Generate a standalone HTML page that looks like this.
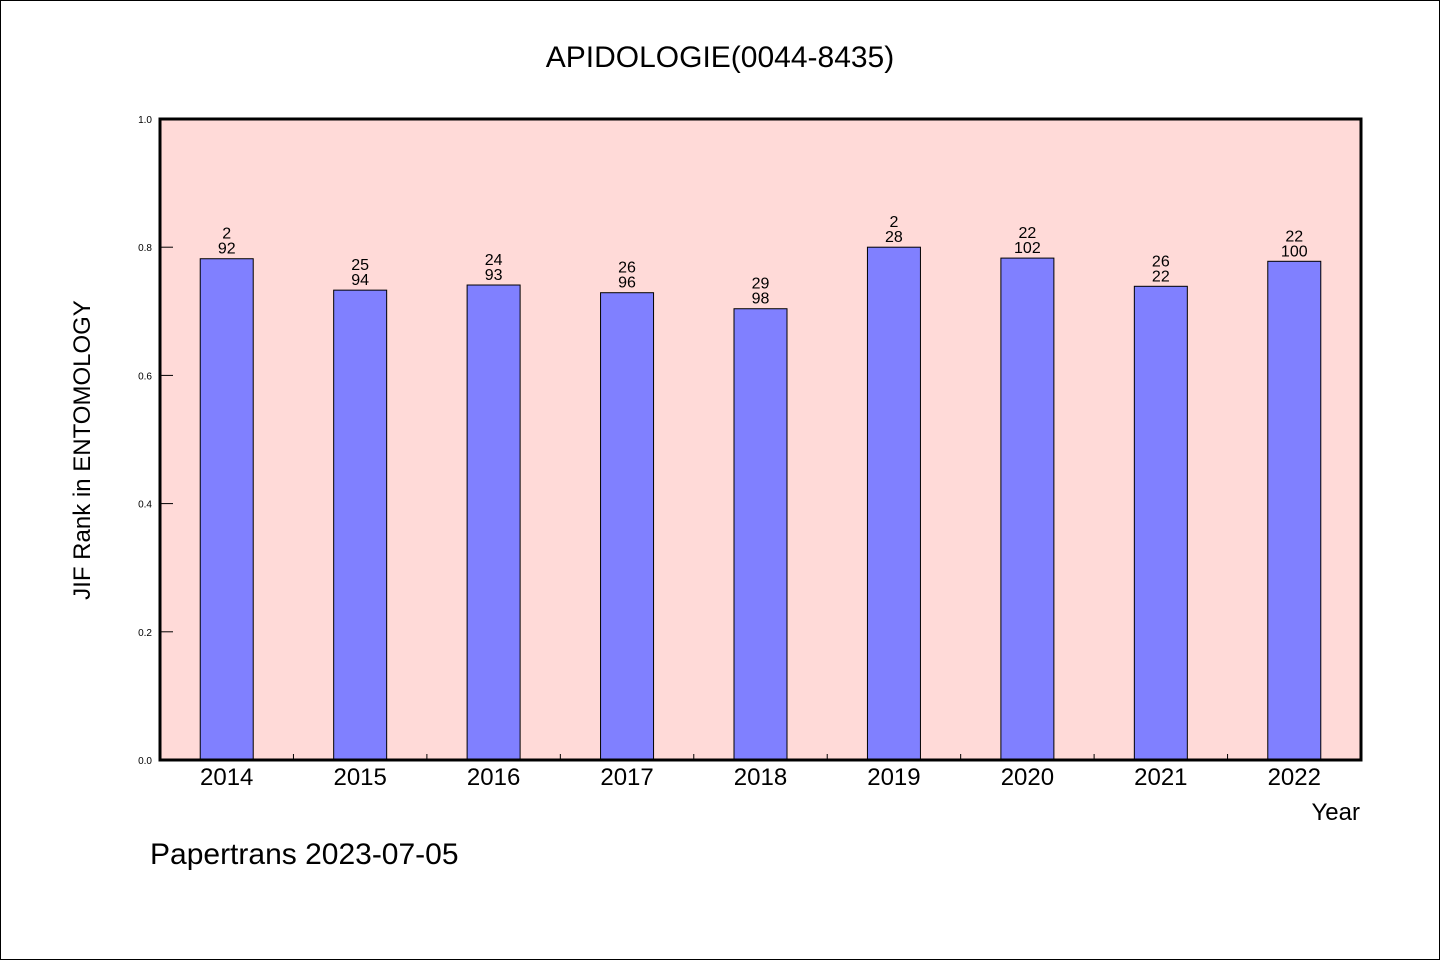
<!DOCTYPE html>
<html><head><meta charset="utf-8"><style>body{margin:0;background:#fff}svg{display:block}text{font-family:"WenQuanYi Zen Hei","Liberation Sans",sans-serif;fill:#000}</style></head>
<body>
<svg id="c" width="1440" height="960">
<rect x="0.5" y="0.5" width="1439" height="959" fill="#fff" stroke="#000"/>
<text x="720" y="67" font-size="30" text-anchor="middle">APIDOLOGIE(0044-8435)</text>
<rect x="160" y="119" width="1201" height="641" fill="#ffdad8"/>
<g id="bars"></g>
<rect x="160" y="119" width="1201" height="641" fill="none" stroke="#000" stroke-width="3"/>
<text transform="translate(90,450) rotate(-90)" font-size="24" text-anchor="middle">JIF Rank in ENTOMOLOGY</text>
<text x="1360" y="820" font-size="24" text-anchor="end">Year</text>
<text x="150" y="864" font-size="30">Papertrans 2023-07-05</text>
</svg>
<script>
const years=["2014","2015","2016","2017","2018","2019","2020","2021","2022"];
const values=[0.782,0.733,0.741,0.729,0.704,0.800,0.783,0.739,0.778];
const rankTop=["2","25","24","26","29","2","22","26","22"];
const rankBottom=["92","94","93","96","98","28","102","22","100"];
const yTicks=[0,0.2,0.4,0.6,0.8,1.0];
const ns="http://www.w3.org/2000/svg";
const x0=160,x1=1361,y0=760,y1=119;
const step=(x1-x0)/years.length;
const xs=i=>x0+step*(i+0.5);
const ys=v=>y0-(y0-y1)*v;
const g=document.getElementById('bars');
function mk(t,a,txt){const e=document.createElementNS(ns,t);for(const k in a)e.setAttribute(k,a[k]);if(txt!==undefined)e.textContent=txt;g.appendChild(e);return e;}
yTicks.forEach(v=>{
 const l=mk('line',{x1:x0,x2:x0+13,y1:ys(v),y2:ys(v),stroke:'#000'});
 
 
 const t=mk('text',{x:x0-8,y:ys(v)+4,'font-size':10,'text-anchor':'end'},v.toFixed(1));
 
 
});
years.forEach((y,i)=>{
 if(i>0){const tk=mk('line',{x1:x0+step*i,x2:x0+step*i,y1:y0,y2:y0-6,stroke:'#000'});
 
 }
 const b=mk('rect',{x:xs(i)-26.5,y:ys(values[i]),width:53,height:y0-ys(values[i]),fill:'#8080ff',stroke:'#000','stroke-width':1});
 
 
 const t1=mk('text',{x:xs(i),y:ys(values[i])-20,'font-size':16,'text-anchor':'middle'},rankTop[i]);
 
 
 const t2=mk('text',{x:xs(i),y:ys(values[i])-5,'font-size':16,'text-anchor':'middle'},rankBottom[i]);
 
 
 const xl=mk('text',{x:xs(i),y:785,'font-size':24,'text-anchor':'middle'},y);
 
 
});
</script>
</body></html>
